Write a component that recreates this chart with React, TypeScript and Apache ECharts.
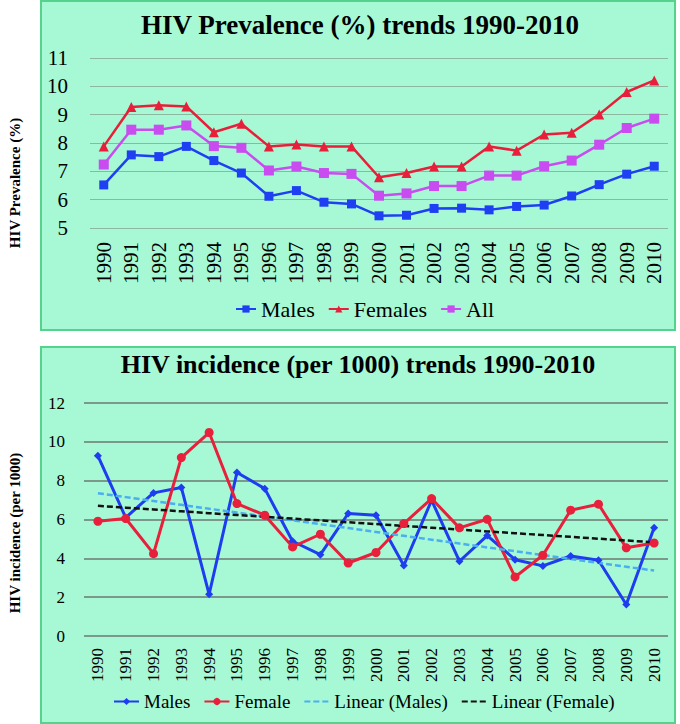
import React, { useEffect, useRef } from 'react';
import * as echarts from 'echarts';

const years = ['1990', '1991', '1992', '1993', '1994', '1995', '1996', '1997', '1998', '1999', '2000',
  '2001', '2002', '2003', '2004', '2005', '2006', '2007', '2008', '2009', '2010'];

// HIV Prevalence (%)
const prevMales = [6.52, 7.58, 7.52, 7.88, 7.38, 6.94, 6.12, 6.32, 5.91, 5.85, 5.43, 5.45, 5.69, 5.70, 5.64, 5.76, 5.81, 6.13, 6.53, 6.90, 7.18];
const prevFemales = [7.88, 9.27, 9.33, 9.29, 8.38, 8.68, 7.88, 7.95, 7.88, 7.88, 6.79, 6.94, 7.17, 7.17, 7.88, 7.73, 8.30, 8.36, 9.01, 9.80, 10.21];
const prevAll = [7.24, 8.47, 8.47, 8.62, 7.89, 7.83, 7.03, 7.17, 6.94, 6.91, 6.14, 6.22, 6.48, 6.48, 6.85, 6.85, 7.18, 7.38, 7.94, 8.53, 8.86];

// HIV incidence (per 1000)
const incMales = [9.28, 6.10, 7.37, 7.65, 2.15, 8.42, 7.59, 4.88, 4.19, 6.31, 6.22, 3.63, 6.99, 3.85, 5.17, 3.93, 3.61, 4.12, 3.90, 1.62, 5.58];
const incFemale = [5.91, 6.05, 4.24, 9.19, 10.48, 6.82, 6.22, 4.59, 5.24, 3.76, 4.30, 5.79, 7.08, 5.57, 6.01, 3.04, 4.16, 6.48, 6.79, 4.54, 4.79];

const prevTicks = { min: 5, max: 11, interval: 1 };
const incTicks = { min: 0, max: 12, interval: 2 };

// least-squares linear trend (as Excel's "Linear" trendline)
function linearTrend(values: number[]): number[] {
  const n = values.length;
  const mx = (n - 1) / 2;
  const my = values.reduce((a, b) => a + b, 0) / n;
  let sxy = 0;
  let sxx = 0;
  values.forEach((v, i) => {
    sxy += (i - mx) * (v - my);
    sxx += (i - mx) * (i - mx);
  });
  const slope = sxy / sxx;
  return values.map((_, i) => +(my + slope * (i - mx)).toFixed(3));
}

const serif = 'Liberation Serif';
const panelFill = '#a6f9d4';
const panelStroke = '#55d28b';
const hidden = { color: 'rgba(0,0,0,0)', borderWidth: 0 };

function topOption(): any {
  return {
    animation: false,
    backgroundColor: '#ffffff',
    textStyle: { fontFamily: serif },
    graphic: [
      {
        type: 'rect', z: -1, silent: true,
        shape: { x: 41, y: 1, width: 634, height: 329 },
        style: { fill: panelFill, stroke: panelStroke, lineWidth: 2 },
      },
      {
        type: 'text', x: 15, y: 183, rotation: Math.PI / 2,
        style: {
          text: 'HIV Prevalence (%)', fontFamily: serif, fontWeight: 'bold', fontSize: 15,
          fill: '#000', align: 'center', verticalAlign: 'middle',
        },
      },
    ],
    title: {
      text: 'HIV Prevalence (%) trends 1990-2010',
      left: 355, top: 6, textAlign: 'center',
      textStyle: { fontFamily: serif, fontWeight: 'bold', fontSize: 27, color: '#000' },
    },
    legend: {
      data: ['Males', 'Females', 'All'],
      left: 235, top: 298, padding: 0,
      itemWidth: 20, itemHeight: 9, itemGap: 13,
      textStyle: { fontFamily: serif, fontSize: 22, color: '#000' },
    },
    grid: { left: 90, width: 578, top: 58, height: 170 },
    xAxis: {
      type: 'category', data: years, boundaryGap: true,
      axisLine: { show: false }, axisTick: { show: false },
      axisLabel: { rotate: 90, interval: 0, fontSize: 21, margin: 14, color: '#000', fontFamily: serif },
    },
    yAxis: {
      type: 'value', ...prevTicks,
      axisLine: { show: false }, axisTick: { show: false },
      axisLabel: { fontSize: 21, margin: 22, color: '#000', fontFamily: serif },
      splitLine: { show: true, lineStyle: { color: '#8db8a0', width: 1.2 } },
    },
    series: [
      {
        name: 'Males', type: 'line', data: prevMales,
        symbol: 'rect', symbolSize: 9,
        itemStyle: { color: '#1f3ff2' }, lineStyle: { color: '#1f3ff2', width: 2.5 },
      },
      {
        name: 'Females', type: 'line', data: prevFemales,
        symbol: 'triangle', symbolSize: 10,
        itemStyle: { color: '#e81f3a' }, lineStyle: { color: '#e81f3a', width: 2.5 },
      },
      {
        name: 'All', type: 'line', data: prevAll,
        symbol: 'rect', symbolSize: 10,
        itemStyle: { color: '#c84cf0' }, lineStyle: { color: '#c84cf0', width: 2.5 },
      },
    ],
  };
}

function bottomOption(): any {
  return {
    animation: false,
    backgroundColor: '#ffffff',
    textStyle: { fontFamily: serif },
    graphic: [
      {
        type: 'rect', z: -1, silent: true,
        shape: { x: 41, y: 7, width: 634, height: 376 },
        style: { fill: panelFill, stroke: panelStroke, lineWidth: 2 },
      },
      {
        type: 'text', x: 15, y: 193, rotation: Math.PI / 2,
        style: {
          text: 'HIV incidence (per 1000)', fontFamily: serif, fontWeight: 'bold', fontSize: 15,
          fill: '#000', align: 'center', verticalAlign: 'middle',
        },
      },
    ],
    title: {
      text: 'HIV incidence (per 1000) trends 1990-2010',
      left: 353, top: 6, textAlign: 'center',
      textStyle: { fontFamily: serif, fontWeight: 'bold', fontSize: 26, color: '#000' },
    },
    legend: {
      data: [
        'Males',
        'Female',
        { name: 'Linear (Males)', itemStyle: hidden },
        { name: 'Linear (Female)', itemStyle: hidden },
      ],
      left: 113, top: 352, padding: 0,
      itemWidth: 25, itemHeight: 9, itemGap: 13,
      textStyle: { fontFamily: serif, fontSize: 19, color: '#000' },
    },
    grid: { left: 84, width: 584, top: 63, height: 233 },
    xAxis: {
      type: 'category', data: years, boundaryGap: true,
      axisLine: { show: false }, axisTick: { show: false },
      axisLabel: { rotate: 90, interval: 0, fontSize: 17, margin: 12, color: '#000', fontFamily: serif },
    },
    yAxis: {
      type: 'value', ...incTicks,
      axisLine: { show: false }, axisTick: { show: false },
      axisLabel: { fontSize: 17, margin: 19, color: '#000', fontFamily: serif },
      splitLine: { show: true, lineStyle: { color: '#6b7872', width: 1.5 } },
    },
    series: [
      {
        name: 'Males', type: 'line', data: incMales,
        symbol: 'diamond', symbolSize: 8,
        itemStyle: { color: '#1e3cf0' }, lineStyle: { color: '#1e3cf0', width: 3 },
      },
      {
        name: 'Female', type: 'line', data: incFemale,
        symbol: 'circle', symbolSize: 9,
        itemStyle: { color: '#e8203c' }, lineStyle: { color: '#e8203c', width: 3 },
      },
      {
        name: 'Linear (Males)', type: 'line', data: linearTrend(incMales),
        symbol: 'none', z: 3,
        itemStyle: { color: '#4aaef0' }, lineStyle: { color: '#4aaef0', width: 2.5, type: [6, 3] },
      },
      {
        name: 'Linear (Female)', type: 'line', data: linearTrend(incFemale),
        symbol: 'none', z: 3,
        itemStyle: { color: '#111111' }, lineStyle: { color: '#111111', width: 2.5, type: [6, 3] },
      },
    ],
  };
}

export default function App() {
  const topRef = useRef<HTMLDivElement>(null);
  const botRef = useRef<HTMLDivElement>(null);

  useEffect(() => {
    if (!topRef.current || !botRef.current) return;
    const c1 = echarts.init(topRef.current, undefined, { renderer: 'svg' });
    const c2 = echarts.init(botRef.current, undefined, { renderer: 'svg' });
    c1.setOption(topOption());
    c2.setOption(bottomOption());
    return () => {
      c1.dispose();
      c2.dispose();
    };
  }, []);

  return (
    <div style={{ position: 'absolute', left: 0, top: 0, width: 680, height: 724, background: '#fff' }}>
      <div ref={topRef} style={{ position: 'absolute', left: 0, top: 0, width: 680, height: 340 }} />
      <div ref={botRef} style={{ position: 'absolute', left: 0, top: 340, width: 680, height: 384 }} />
    </div>
  );
}
